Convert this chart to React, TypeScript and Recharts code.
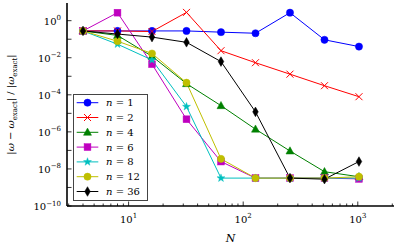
import React from 'react';
import { LineChart, Line, XAxis, YAxis, Legend } from 'recharts';

// Grid sizes N
const N_VALUES = [4, 8, 16, 32, 64, 128, 256, 512, 1024];

// Relative error |ω − ω_exact| / |ω_exact| per polynomial order n
const ERR_N1 = [0.28, 0.28, 0.28, 0.28, 0.24, 0.21, 2.7, 0.093, 0.04];
const ERR_N2 = [0.28, 0.28, 0.26, 2.8, 0.024, 0.0054, 0.0013, 3.1e-4, 7.9e-5];
const ERR_N4 = [0.28, 0.16, 0.012, 4.0e-4, 2.6e-5, 1.4e-6, 9.3e-8, 7.1e-9, 3.8e-9];
const ERR_N6 = [0.28, 2.7, 0.0045, 4.8e-6, 2.5e-8, 3.2e-9, 3.2e-9, 3.2e-9, 2.9e-9];
const ERR_N8 = [0.28, 0.054, 0.0076, 2.3e-5, 3.2e-9, 3.2e-9, 3.2e-9, 3.2e-9, 3.2e-9];
const ERR_N12 = [0.28, 0.078, 0.017, 4.5e-4, 3.5e-8, 3.2e-9, 3.2e-9, 3.2e-9, 3.8e-9];
const ERR_N36 = [0.28, 0.19, 0.13, 0.068, 0.0062, 1.2e-5, 3.2e-9, 2.8e-9, 2.5e-8];

const SERIES_LABELS = ['1', '2', '4', '6', '8', '12', '36'];
const SERIES_VALUES = [ERR_N1, ERR_N2, ERR_N4, ERR_N6, ERR_N8, ERR_N12, ERR_N36];

// Axis ticks
const X_TICKS = [3, 4, 5, 6, 7, 8, 9, 10, 20, 30, 40, 50, 60, 70, 80, 90, 100, 200, 300, 400, 500, 600, 700, 800, 900, 1000, 2000];
const X_DOMAIN = [2.9, 2070];
const Y_TICKS = [1e-10, 1e-9, 1e-8, 1e-7, 1e-6, 1e-5, 1e-4, 1e-3, 1e-2, 1e-1, 1];
const Y_DOMAIN = [1e-10, 9];

// styling (kept separate from data)
const STYLES = [
  { color: '#0000ff', marker: 'circle' },
  { color: '#ff0000', marker: 'x' },
  { color: '#008000', marker: 'triangle' },
  { color: '#bf00bf', marker: 'square' },
  { color: '#00bfbf', marker: 'star' },
  { color: '#bfbf00', marker: 'circle' },
  { color: '#000000', marker: 'diamond' },
];

const FONT = '"DejaVu Serif", "Liberation Serif", serif';

const rows = N_VALUES.map((N, i) => {
  const r: any = { N };
  SERIES_LABELS.forEach((lab, s) => {
    r['n' + lab] = SERIES_VALUES[s][i];
  });
  return r;
});

function Marker({ type, color, cx, cy }: any) {
  if (cx == null || cy == null || isNaN(cx) || isNaN(cy)) return null;
  switch (type) {
    case 'circle':
      return <circle cx={cx} cy={cy} r={3.6} fill={color} stroke={color} strokeWidth={0.5} />;
    case 'x':
      return (
        <g stroke={color} strokeWidth={1}>
          <line x1={cx - 3.5} y1={cy - 3.5} x2={cx + 3.5} y2={cy + 3.5} />
          <line x1={cx - 3.5} y1={cy + 3.5} x2={cx + 3.5} y2={cy - 3.5} />
        </g>
      );
    case 'triangle':
      return (
        <polygon
          points={`${cx},${cy - 4.2} ${cx - 4},${cy + 3} ${cx + 4},${cy + 3}`}
          fill={color}
          stroke={color}
          strokeWidth={0.5}
        />
      );
    case 'square':
      return <rect x={cx - 3.4} y={cy - 3.4} width={6.8} height={6.8} fill={color} stroke={color} strokeWidth={0.5} />;
    case 'star': {
      const pts: string[] = [];
      for (let k = 0; k < 10; k++) {
        const r = k % 2 === 0 ? 4.2 : 1.7;
        const a = -Math.PI / 2 + (k * Math.PI) / 5;
        pts.push(`${cx + r * Math.cos(a)},${cy + r * Math.sin(a)}`);
      }
      return <polygon points={pts.join(' ')} fill={color} stroke={color} strokeWidth={0.4} />;
    }
    case 'diamond':
      return (
        <polygon
          points={`${cx},${cy - 4.8} ${cx + 2.8},${cy} ${cx},${cy + 4.8} ${cx - 2.8},${cy}`}
          fill={color}
          stroke={color}
          strokeWidth={0.5}
        />
      );
    default:
      return null;
  }
}

const isMajorX = (v: number) => Math.abs(Math.log10(v) - Math.round(Math.log10(v))) < 1e-9;

function BottomTick(props: any) {
  const { x, y, payload } = props;
  const v = payload.value;
  const major = isMajorX(v);
  const len = major ? 4.5 : 2.5;
  return (
    <g>
      <line x1={x} y1={y} x2={x} y2={y - len} stroke="#000" strokeWidth={0.8} />
      {major && (
        <text x={x} y={y + 16.5} textAnchor="middle" fontFamily={FONT} fontSize={10} fill="#000">
          10
          <tspan dy={-4.5} fontSize={7}>
            {Math.round(Math.log10(v))}
          </tspan>
        </text>
      )}
    </g>
  );
}

function TopTick(props: any) {
  const { x, y, payload } = props;
  const major = isMajorX(payload.value);
  const len = major ? 4.5 : 2.5;
  return <line x1={x} y1={y} x2={x} y2={y + len} stroke="#000" strokeWidth={0.8} />;
}

function LeftTick(props: any) {
  const { x, y, payload } = props;
  const e = Math.round(Math.log10(payload.value));
  const labeled = e % 2 === 0;
  return (
    <g>
      <line x1={x} y1={y} x2={x + 4.5} y2={y} stroke="#000" strokeWidth={0.8} />
      {labeled && (
        <text x={x - 6} y={y + 4} textAnchor="end" fontFamily={FONT} fontSize={10} fill="#000">
          10
          <tspan dy={-4.5} fontSize={7}>
            {e < 0 ? '\u2212' + Math.abs(e) : String(e)}
          </tspan>
        </text>
      )}
    </g>
  );
}

function RightTick(props: any) {
  const { x, y } = props;
  return <line x1={x} y1={y} x2={x - 4.5} y2={y} stroke="#000" strokeWidth={0.8} />;
}

function YLabel(props: any) {
  const vb = props.viewBox || { x: 0, y: 0, width: 0, height: 0 };
  const cx = vb.x + 14;
  const cy = vb.y + vb.height / 2;
  return (
    <text
      x={cx}
      y={cy}
      transform={`rotate(-90, ${cx}, ${cy})`}
      textAnchor="middle"
      fontFamily={FONT}
      fontSize={10}
      fill="#000"
    >
      |<tspan fontStyle="italic">ω</tspan> − <tspan fontStyle="italic">ω</tspan>
      <tspan dy={2.5} fontSize={7}>exact</tspan>
      <tspan dy={-2.5}>| / |</tspan>
      <tspan fontStyle="italic">ω</tspan>
      <tspan dy={2.5} fontSize={7}>exact</tspan>
      <tspan dy={-2.5}>|</tspan>
    </text>
  );
}

function XLabel(props: any) {
  const vb = props.viewBox || { x: 0, y: 0, width: 0, height: 0 };
  return (
    <text
      x={vb.x + vb.width / 2}
      y={vb.y + 36}
      textAnchor="middle"
      fontFamily={FONT}
      fontSize={11}
      fontStyle="italic"
      fill="#000"
    >
      N
    </text>
  );
}

function LegendBox() {
  const W = 75;
  const H = 107;
  return (
    <svg width={W} height={H} style={{ display: 'block' }}>
      <rect x={0.5} y={0.5} width={W - 1} height={H - 1} fill="#fff" stroke="#444" strokeWidth={1} />
      {SERIES_LABELS.map((lab, i) => {
        const y = 8.7 + i * 14.8;
        const st = STYLES[i];
        return (
          <g key={lab}>
            <line x1={3.7} y1={y} x2={25.3} y2={y} stroke={st.color} strokeWidth={1} />
            <Marker type={st.marker} color={st.color} cx={14.5} cy={y} />
            <text x={33} y={y + 3.5} fontFamily={FONT} fontSize={10} fill="#000">
              <tspan fontStyle="italic">n</tspan> = {lab}
            </text>
          </g>
        );
      })}
    </svg>
  );
}

export default function App() {
  return (
    <div style={{ position: 'absolute', left: 0, top: 0, width: 399, height: 246, background: '#fff' }}>
      <LineChart width={399} height={246} data={rows} margin={{ top: 3, right: 5, bottom: 0, left: 0 }}>
        <XAxis
          xAxisId="bottom"
          dataKey="N"
          type="number"
          scale="log"
          domain={X_DOMAIN}
          allowDataOverflow
          ticks={X_TICKS}
          interval={0}
          height={40}
          tickSize={0}
          tickMargin={0}
          tickLine={false}
          axisLine={{ stroke: '#000', strokeWidth: 1.6 }}
          tick={<BottomTick />}
          label={(p: any) => <XLabel {...p} />}
        />
        <XAxis
          xAxisId="top"
          orientation="top"
          dataKey="N"
          type="number"
          scale="log"
          domain={X_DOMAIN}
          allowDataOverflow
          ticks={X_TICKS}
          interval={0}
          height={0}
          tickSize={0}
          tickMargin={0}
          tickLine={false}
          axisLine={{ stroke: '#000', strokeWidth: 1.6 }}
          tick={<TopTick />}
        />
        <YAxis
          yAxisId="left"
          type="number"
          scale="log"
          domain={Y_DOMAIN}
          allowDataOverflow
          ticks={Y_TICKS}
          interval={0}
          width={67}
          tickSize={0}
          tickMargin={0}
          tickLine={false}
          axisLine={{ stroke: '#000', strokeWidth: 1.6 }}
          tick={<LeftTick />}
          label={(p: any) => <YLabel {...p} />}
        />
        <YAxis
          yAxisId="right"
          orientation="right"
          type="number"
          scale="log"
          domain={Y_DOMAIN}
          allowDataOverflow
          ticks={Y_TICKS}
          interval={0}
          width={0}
          tickSize={0}
          tickMargin={0}
          tickLine={false}
          axisLine={{ stroke: '#000', strokeWidth: 1.6 }}
          tick={<RightTick />}
        />
        {SERIES_LABELS.map((lab, i) => (
          <Line
            key={lab}
            xAxisId="bottom"
            yAxisId="left"
            dataKey={'n' + lab}
            name={'n = ' + lab}
            stroke={STYLES[i].color}
            strokeWidth={1}
            isAnimationActive={false}
            dot={(p: any) => <Marker key={lab + '-' + p.index} type={STYLES[i].marker} color={STYLES[i].color} cx={p.cx} cy={p.cy} />}
            activeDot={false}
          />
        ))}
        <Legend
          layout="vertical"
          align="center"
          verticalAlign="middle"
          content={() => <LegendBox />}
          wrapperStyle={{ position: 'absolute', left: 73, top: 94, width: 75, height: 107 }}
        />
      </LineChart>
    </div>
  );
}
